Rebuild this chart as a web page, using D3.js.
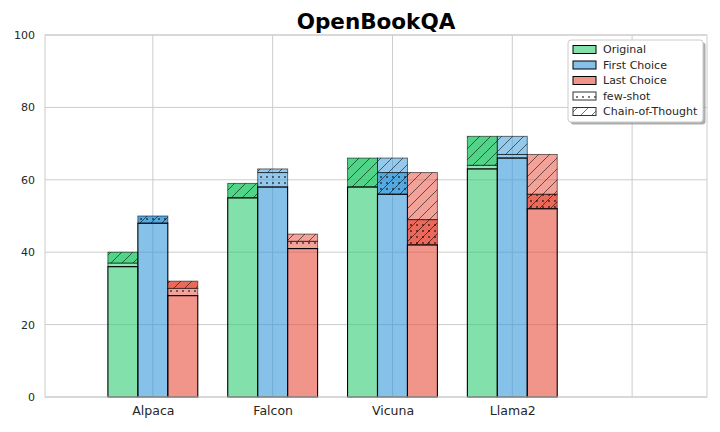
<!DOCTYPE html>
<html><head><meta charset="utf-8">
<script src="https://cdn.jsdelivr.net/npm/d3@7"></script>
<style>
html,body{margin:0;padding:0;background:#fff;}
svg{display:block;font-family:"DejaVu Sans",sans-serif;}
</style></head>
<body><svg id="chart" width="720" height="432"></svg>
<script>
// ---- data ----
const models = ["Alpaca", "Falcon", "Vicuna", "Llama2"];
const methods = ["Original", "First Choice", "Last Choice"];
const originalBase    = [36, 55, 58, 63];
const originalFewShot = [37, 55, 58, 64];
const originalCoT     = [40, 59, 66, 72];
const firstBase       = [48, 58, 56, 66];
const firstFewShot    = [50, 62, 62, 67];
const firstCoT        = [50, 63, 66, 72];
const lastBase        = [28, 41, 42, 52];
const lastFewShot     = [30, 43, 49, 56];
const lastCoT         = [32, 45, 62, 67];
const yTicks = [0, 20, 40, 60, 80, 100];
const title = "OpenBookQA";
const legendLabels = ["Original", "First Choice", "Last Choice", "few-shot", "Chain-of-Thought"];

// ---- style ----
const colors = ["#2ecc71", "#3498db", "#e74c3c"];
// tone of few-shot / CoT segments per method and model (d = dark, l = light)
const fsTone  = [["l","l","l","l"], ["d","l","d","l"], ["l","l","d","d"]];
const cotTone = [["d","d","d","d"], ["l","l","l","l"], ["d","l","l","l"]];

const series = [
  {base: originalBase, fs: originalFewShot, cot: originalCoT},
  {base: firstBase, fs: firstFewShot, cot: firstCoT},
  {base: lastBase, fs: lastFewShot, cot: lastCoT}
];

const svg = d3.select("#chart");
const L = 45, R = 707, T = 35, B = 397;
const x = d3.scaleLinear().domain([-0.9, 4.625]).range([L, R]);
const y = d3.scaleLinear().domain([0, 100]).range([B, T]);
const barW = 0.25;

// patterns
const defs = svg.append("defs");
const diag = defs.append("pattern").attr("id", "diag").attr("patternUnits", "userSpaceOnUse")
  .attr("width", 11).attr("height", 11);
diag.append("path").attr("d", "M-1,12 L12,-1 M-1,1 L1,-1 M10,12 L12,10")
  .attr("stroke", "rgba(0,0,0,0.62)").attr("stroke-width", 0.9).attr("fill", "none");
const dots = defs.append("pattern").attr("id", "dots").attr("patternUnits", "userSpaceOnUse")
  .attr("width", 6).attr("height", 6);
dots.append("rect").attr("x", 2).attr("y", 2).attr("width", 2).attr("height", 2)
  .attr("fill", "rgba(0,0,0,0.5)");

// axes background grid
const g = svg.append("g");
g.selectAll(".hg").data(yTicks).join("line")
  .attr("x1", L).attr("x2", R).attr("y1", d => y(d)).attr("y2", d => y(d))
  .attr("stroke", "#cccccc").attr("stroke-width", 1);
const xGrid = d3.range(models.length + 1);
g.selectAll(".vg").data(xGrid).join("line")
  .attr("x1", d => x(d)).attr("x2", d => x(d)).attr("y1", T).attr("y2", B)
  .attr("stroke", "#cccccc").attr("stroke-width", 1);

// bars
const bars = svg.append("g");
series.forEach((s, mi) => {
  const off = (mi - 1) * barW;
  models.forEach((m, i) => {
    const x0 = x(i + off - barW / 2), w = x(i + off + barW / 2) - x0;
    const segs = [
      {lo: s.base[i], hi: s.fs[i], tone: fsTone[mi][i], hatch: fsTone[mi][i] === "d" ? ["dots", "diag"] : ["dots"]},
      {lo: s.fs[i], hi: s.cot[i], tone: cotTone[mi][i], hatch: ["diag"]}
    ];
    segs.forEach(sg => {
      if (sg.hi <= sg.lo) return;
      const yy = y(sg.hi), hh = y(sg.lo) - y(sg.hi);
      const op = sg.tone === "d" ? 0.84 : 0.52;
      bars.append("rect").attr("x", x0).attr("y", yy).attr("width", w).attr("height", hh)
        .attr("fill", colors[mi]).attr("fill-opacity", op);
      sg.hatch.forEach(h => bars.append("rect").attr("x", x0).attr("y", yy).attr("width", w).attr("height", hh)
        .attr("fill", `url(#${h})`));
      bars.append("rect").attr("x", x0).attr("y", yy).attr("width", w).attr("height", hh)
        .attr("fill", "none").attr("stroke", "rgba(0,0,0,0.55)").attr("stroke-width", 1);
    });
    bars.append("rect").attr("x", x0).attr("y", y(s.base[i])).attr("width", w)
      .attr("height", y(0) - y(s.base[i]))
      .attr("fill", colors[mi]).attr("fill-opacity", 0.6)
      .attr("stroke", "#000").attr("stroke-width", 1.1);
  });
});

// spines
svg.append("rect").attr("x", L).attr("y", T).attr("width", R - L).attr("height", B - T)
  .attr("fill", "none").attr("stroke", "#cccccc").attr("stroke-width", 1);

// axes
const yAxis = d3.axisLeft(y).tickValues(yTicks).tickSize(0).tickPadding(10).tickFormat(d3.format("d"));
const ya = svg.append("g").attr("transform", `translate(${L},0)`).call(yAxis);
ya.select(".domain").remove();
ya.selectAll("text").attr("font-size", 11).attr("fill", "#262626").attr("font-family", "DejaVu Sans");

const xAxis = d3.axisBottom(x).tickValues(d3.range(models.length)).tickSize(0).tickPadding(9)
  .tickFormat(i => models[i]);
const xa = svg.append("g").attr("transform", `translate(0,${B})`).call(xAxis);
xa.select(".domain").remove();
xa.selectAll("text").attr("font-size", 12.5).attr("fill", "#262626").attr("font-family", "DejaVu Sans");

// title
svg.append("text").attr("x", (L + R) / 2).attr("y", 29).attr("text-anchor", "middle")
  .attr("font-size", 21.5).attr("font-weight", "bold").attr("fill", "#000").text(title);

// legend
const lg = svg.append("g").attr("transform", "translate(568,40)");
lg.append("rect").attr("x", 2.5).attr("y", 2.5).attr("width", 135).attr("height", 82).attr("rx", 3)
  .attr("fill", "#999").attr("opacity", 0.8);
lg.append("rect").attr("x", 0).attr("y", 0).attr("width", 135).attr("height", 82).attr("rx", 3)
  .attr("fill", "#fff").attr("stroke", "#cccccc");
legendLabels.forEach((lab, k) => {
  const cy = 9.5 + k * 15.5;
  const px = 5, pw = 23, ph = 8;
  if (k < 3) {
    lg.append("rect").attr("x", px).attr("y", cy - ph / 2).attr("width", pw).attr("height", ph)
      .attr("fill", colors[k]).attr("fill-opacity", 0.6).attr("stroke", "#000").attr("stroke-width", 1);
  } else {
    lg.append("rect").attr("x", px).attr("y", cy - ph / 2).attr("width", pw).attr("height", ph)
      .attr("fill", "#fff");
    lg.append("rect").attr("x", px).attr("y", cy - ph / 2).attr("width", pw).attr("height", ph)
      .attr("fill", k === 3 ? "url(#dots)" : "url(#diag)").attr("stroke", "#333").attr("stroke-width", 1);
  }
  lg.append("text").attr("x", 35).attr("y", cy).attr("dy", "0.35em").attr("font-size", 11)
    .attr("fill", "#262626").text(lab);
});
</script></body></html>
